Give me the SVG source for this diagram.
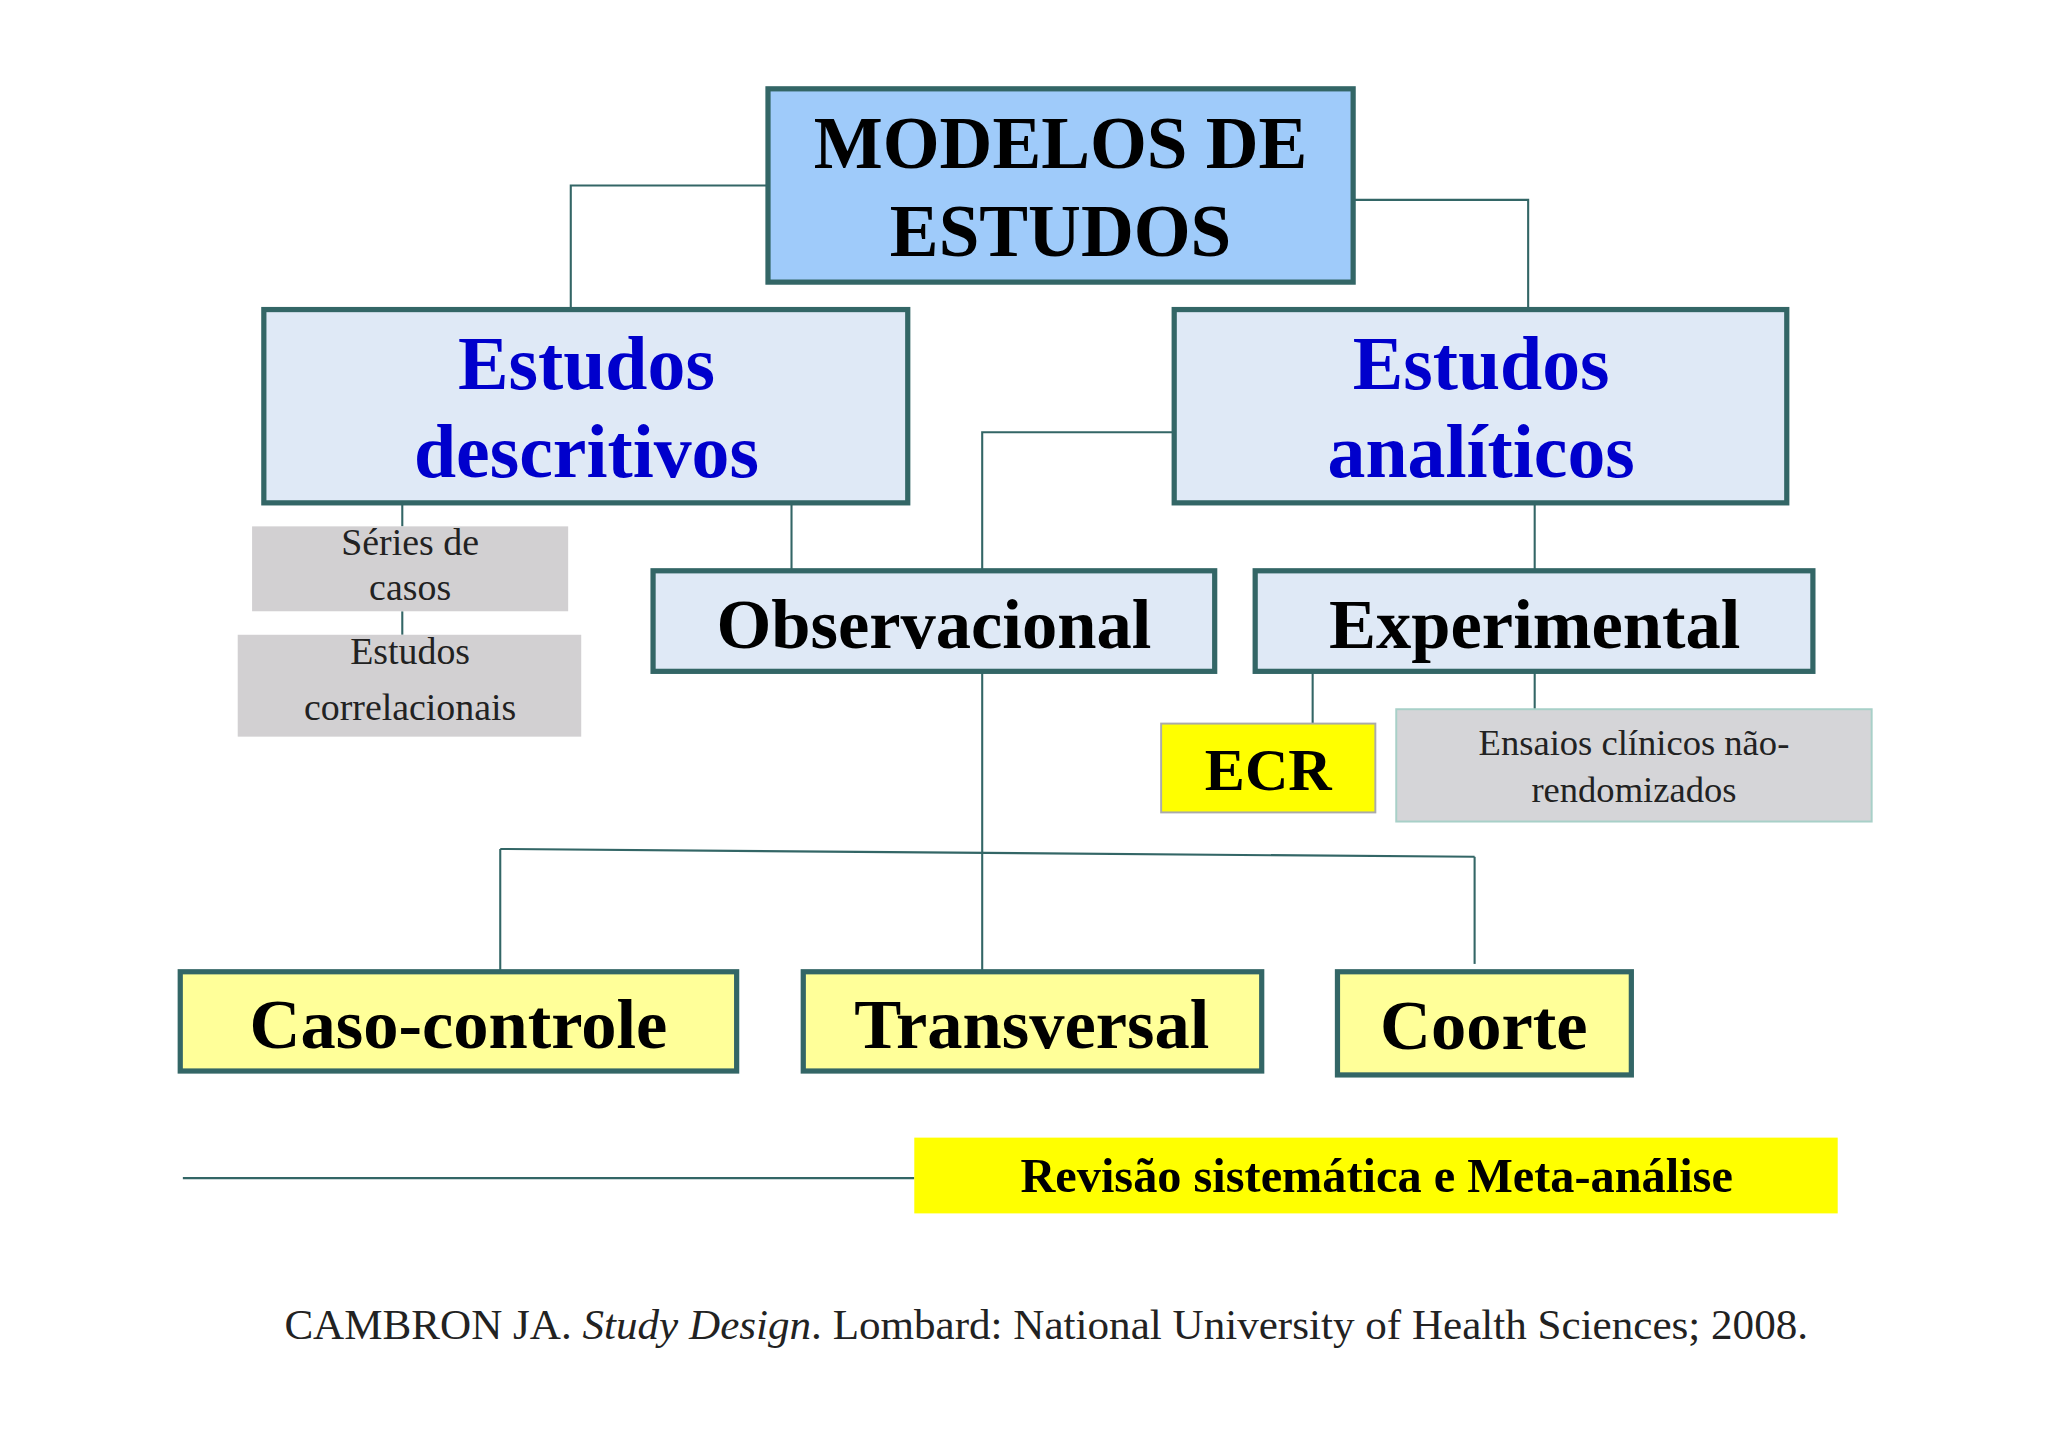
<svg xmlns="http://www.w3.org/2000/svg" width="2048" height="1447" viewBox="0 0 2048 1447">
<style>
.b{stroke:#336666;stroke-width:4}
.t{font-family:"Liberation Serif",serif;font-weight:bold;text-anchor:middle}
.n{font-family:"Liberation Serif",serif;text-anchor:middle;fill:#222}
.c{fill:none;stroke:#336666;stroke-width:1.6}
</style>
<rect width="2048" height="1447" fill="#fff"/>
<g transform="scale(1.30612)">
<g id="connectors" class="c">
<polyline points="587,142 437,142 437,237"/>
<polyline points="1036,153 1170,153 1170,237"/>
<line x1="308" y1="385" x2="308" y2="403"/>
<line x1="308" y1="468" x2="308" y2="486"/>
<line x1="606" y1="385" x2="606" y2="437"/>
<polyline points="899,331 752,331 752,437"/>
<line x1="1175" y1="385" x2="1175" y2="437"/>
<line x1="752" y1="514" x2="752" y2="744"/>
<line x1="383" y1="650" x2="1129" y2="656"/>
<line x1="383" y1="650" x2="383" y2="744"/>
<line x1="1129" y1="656" x2="1129" y2="738"/>
<line x1="1005" y1="514" x2="1005" y2="554"/>
<line x1="1175" y1="514" x2="1175" y2="543"/>
<line x1="140" y1="902" x2="700" y2="902"/>
</g>
<g id="root"><rect class="b" x="588" y="68" width="448" height="148" fill="#9fcbfa"/>
<text class="t" x="812" y="129" font-size="56">MODELOS DE</text><text class="t" x="812" y="196" font-size="56">ESTUDOS</text></g>
<g id="descritivos"><rect class="b" x="202" y="237" width="493" height="148" fill="#dfe9f6"/>
<text class="t" x="449" y="298" font-size="58" fill="#0000cc">Estudos</text><text class="t" x="449" y="365" font-size="58" fill="#0000cc">descritivos</text></g>
<g id="analiticos"><rect class="b" x="899" y="237" width="469" height="148" fill="#dfe9f6"/>
<text class="t" x="1134" y="298" font-size="58" fill="#0000cc">Estudos</text><text class="t" x="1134" y="365" font-size="58" fill="#0000cc">analíticos</text></g>
<g id="series"><rect x="193" y="403" width="242" height="65" fill="#d2d0d2"/>
<text class="n" x="314" y="425" font-size="29">Séries de</text><text class="n" x="314" y="459" font-size="29">casos</text></g>
<g id="correlacionais"><rect x="182" y="486" width="263" height="78" fill="#d2d0d2"/>
<text class="n" x="314" y="508" font-size="29">Estudos</text><text class="n" x="314" y="551" font-size="29">correlacionais</text></g>
<g id="observacional"><rect class="b" x="500" y="437" width="430" height="77" fill="#dfe9f6"/>
<text class="t" x="715" y="496" font-size="54">Observacional</text></g>
<g id="experimental"><rect class="b" x="961" y="437" width="427" height="77" fill="#dfe9f6"/>
<text class="t" x="1175" y="496" font-size="54">Experimental</text></g>
<g id="ecr"><rect x="889" y="554" width="164" height="68" fill="#ffff00" stroke="#aaa" stroke-width="1.5"/>
<text class="t" x="971" y="605" font-size="46">ECR</text></g>
<g id="ensaios"><rect x="1069" y="543" width="364" height="86" fill="#d5d5d8" stroke="#a8d0c8" stroke-width="1.5"/>
<text class="n" x="1251" y="578" font-size="28">Ensaios clínicos não-</text><text class="n" x="1251" y="614" font-size="28">rendomizados</text></g>
<g id="caso"><rect class="b" x="138" y="744" width="426" height="76" fill="#ffff99"/>
<text class="t" x="351" y="802" font-size="54">Caso-controle</text></g>
<g id="transversal"><rect class="b" x="615" y="744" width="351" height="76" fill="#ffff99"/>
<text class="t" x="790" y="802" font-size="54">Transversal</text></g>
<g id="coorte"><rect class="b" x="1024" y="744" width="225" height="79" fill="#ffff99"/>
<text class="t" x="1136" y="803" font-size="54">Coorte</text></g>
<g id="revisao"><rect x="700" y="871" width="707" height="58" fill="#ffff00"/>
<text class="t" x="1054" y="913" font-size="37">Revisão sistemática e Meta-análise</text></g>
<text class="n" x="801" y="1025" font-size="33" fill="#111">CAMBRON JA. <tspan font-style="italic">Study Design</tspan>. Lombard: National University of Health Sciences; 2008.</text>
</g>
</svg>
